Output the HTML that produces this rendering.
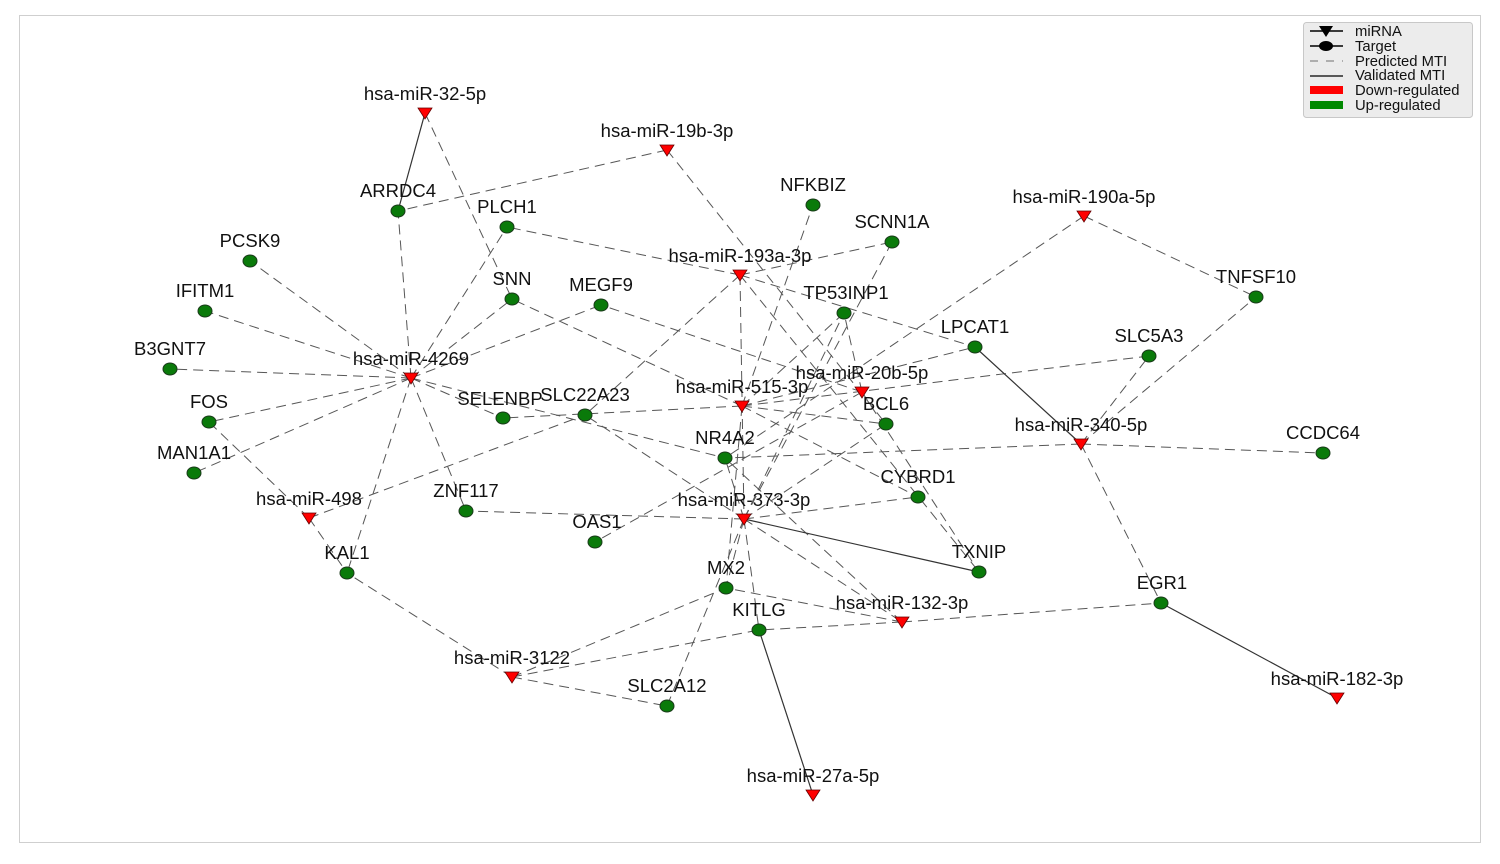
<!DOCTYPE html>
<html><head><meta charset="utf-8"><style>
html,body{margin:0;padding:0;background:#fff;}
svg text{font-family:"Liberation Sans",Arial,sans-serif;}
</style></head><body>
<svg width="1500" height="859" viewBox="0 0 1500 859" xmlns="http://www.w3.org/2000/svg">
<rect x="0" y="0" width="1500" height="859" fill="#fff"/>
<rect x="19.5" y="15.5" width="1461" height="827" fill="none" stroke="#cfcfcf" stroke-width="1"/>
<g id="edges" stroke="#444" stroke-width="1" fill="none" stroke-dasharray="10,6" opacity="0.9">
<line x1="425" y1="113" x2="512" y2="299"/>
<line x1="667" y1="150" x2="398" y2="211"/>
<line x1="667" y1="150" x2="886" y2="424"/>
<line x1="740" y1="275" x2="507" y2="227"/>
<line x1="740" y1="275" x2="892" y2="242"/>
<line x1="740" y1="275" x2="975" y2="347"/>
<line x1="740" y1="275" x2="585" y2="415"/>
<line x1="740" y1="275" x2="979" y2="572"/>
<line x1="740" y1="275" x2="744" y2="519"/>
<line x1="411" y1="378" x2="398" y2="211"/>
<line x1="411" y1="378" x2="507" y2="227"/>
<line x1="411" y1="378" x2="250" y2="261"/>
<line x1="411" y1="378" x2="205" y2="311"/>
<line x1="411" y1="378" x2="170" y2="369"/>
<line x1="411" y1="378" x2="209" y2="422"/>
<line x1="411" y1="378" x2="194" y2="473"/>
<line x1="411" y1="378" x2="512" y2="299"/>
<line x1="411" y1="378" x2="601" y2="305"/>
<line x1="411" y1="378" x2="503" y2="418"/>
<line x1="411" y1="378" x2="466" y2="511"/>
<line x1="411" y1="378" x2="347" y2="573"/>
<line x1="411" y1="378" x2="725" y2="458"/>
<line x1="742" y1="406" x2="512" y2="299"/>
<line x1="742" y1="406" x2="503" y2="418"/>
<line x1="742" y1="406" x2="813" y2="205"/>
<line x1="742" y1="406" x2="844" y2="313"/>
<line x1="742" y1="406" x2="1149" y2="356"/>
<line x1="742" y1="406" x2="886" y2="424"/>
<line x1="742" y1="406" x2="918" y2="497"/>
<line x1="742" y1="406" x2="726" y2="588"/>
<line x1="742" y1="406" x2="975" y2="347"/>
<line x1="862" y1="392" x2="601" y2="305"/>
<line x1="862" y1="392" x2="844" y2="313"/>
<line x1="862" y1="392" x2="979" y2="572"/>
<line x1="862" y1="392" x2="595" y2="542"/>
<line x1="1084" y1="216" x2="1256" y2="297"/>
<line x1="1084" y1="216" x2="725" y2="458"/>
<line x1="1081" y1="444" x2="1149" y2="356"/>
<line x1="1081" y1="444" x2="1256" y2="297"/>
<line x1="1081" y1="444" x2="1323" y2="453"/>
<line x1="1081" y1="444" x2="725" y2="458"/>
<line x1="1081" y1="444" x2="1161" y2="603"/>
<line x1="309" y1="518" x2="209" y2="422"/>
<line x1="309" y1="518" x2="347" y2="573"/>
<line x1="309" y1="518" x2="585" y2="415"/>
<line x1="744" y1="519" x2="466" y2="511"/>
<line x1="744" y1="519" x2="918" y2="497"/>
<line x1="744" y1="519" x2="725" y2="458"/>
<line x1="744" y1="519" x2="844" y2="313"/>
<line x1="744" y1="519" x2="892" y2="242"/>
<line x1="744" y1="519" x2="886" y2="424"/>
<line x1="744" y1="519" x2="726" y2="588"/>
<line x1="744" y1="519" x2="759" y2="630"/>
<line x1="744" y1="519" x2="667" y2="706"/>
<line x1="744" y1="519" x2="902" y2="622"/>
<line x1="744" y1="519" x2="585" y2="415"/>
<line x1="902" y1="622" x2="726" y2="588"/>
<line x1="902" y1="622" x2="1161" y2="603"/>
<line x1="902" y1="622" x2="759" y2="630"/>
<line x1="902" y1="622" x2="725" y2="458"/>
<line x1="512" y1="677" x2="347" y2="573"/>
<line x1="512" y1="677" x2="726" y2="588"/>
<line x1="512" y1="677" x2="667" y2="706"/>
<line x1="512" y1="677" x2="759" y2="630"/>
</g>
<g stroke="#333" stroke-width="1.2" fill="none">
<line x1="425" y1="113" x2="398" y2="211"/>
<line x1="1081" y1="444" x2="975" y2="347"/>
<line x1="744" y1="519" x2="979" y2="572"/>
<line x1="1337" y1="698" x2="1161" y2="603"/>
<line x1="813" y1="795" x2="759" y2="630"/>
</g>
<g fill="#0a7a0a" stroke="#1a3a1a" stroke-width="1">
<ellipse cx="398" cy="211" rx="7" ry="6"/><ellipse cx="507" cy="227" rx="7" ry="6"/>
<ellipse cx="813" cy="205" rx="7" ry="6"/><ellipse cx="892" cy="242" rx="7" ry="6"/>
<ellipse cx="250" cy="261" rx="7" ry="6"/><ellipse cx="205" cy="311" rx="7" ry="6"/>
<ellipse cx="512" cy="299" rx="7" ry="6"/><ellipse cx="601" cy="305" rx="7" ry="6"/>
<ellipse cx="844" cy="313" rx="7" ry="6"/><ellipse cx="1256" cy="297" rx="7" ry="6"/>
<ellipse cx="975" cy="347" rx="7" ry="6"/><ellipse cx="1149" cy="356" rx="7" ry="6"/>
<ellipse cx="170" cy="369" rx="7" ry="6"/><ellipse cx="209" cy="422" rx="7" ry="6"/>
<ellipse cx="503" cy="418" rx="7" ry="6"/><ellipse cx="585" cy="415" rx="7" ry="6"/>
<ellipse cx="886" cy="424" rx="7" ry="6"/><ellipse cx="725" cy="458" rx="7" ry="6"/>
<ellipse cx="1323" cy="453" rx="7" ry="6"/><ellipse cx="194" cy="473" rx="7" ry="6"/>
<ellipse cx="918" cy="497" rx="7" ry="6"/><ellipse cx="466" cy="511" rx="7" ry="6"/>
<ellipse cx="595" cy="542" rx="7" ry="6"/><ellipse cx="979" cy="572" rx="7" ry="6"/>
<ellipse cx="347" cy="573" rx="7" ry="6"/><ellipse cx="726" cy="588" rx="7" ry="6"/>
<ellipse cx="1161" cy="603" rx="7" ry="6"/><ellipse cx="759" cy="630" rx="7" ry="6"/>
<ellipse cx="667" cy="706" rx="7" ry="6"/>
</g>
<g fill="#f00" stroke="#600" stroke-width="0.8">
<polygon points="418,108 432,108 425,119"/>
<polygon points="660,145 674,145 667,156"/>
<polygon points="733,270 747,270 740,281"/>
<polygon points="1077,211 1091,211 1084,222"/>
<polygon points="404,373 418,373 411,384"/>
<polygon points="735,401 749,401 742,412"/>
<polygon points="855,387 869,387 862,398"/>
<polygon points="1074,439 1088,439 1081,450"/>
<polygon points="302,513 316,513 309,524"/>
<polygon points="737,514 751,514 744,525"/>
<polygon points="895,617 909,617 902,628"/>
<polygon points="505,672 519,672 512,683"/>
<polygon points="1330,693 1344,693 1337,704"/>
<polygon points="806,790 820,790 813,801"/>
</g>
<g font-size="18.5" fill="#111" text-anchor="middle">
<text x="425" y="100">hsa-miR-32-5p</text>
<text x="667" y="137">hsa-miR-19b-3p</text>
<text x="740" y="262">hsa-miR-193a-3p</text>
<text x="1084" y="203">hsa-miR-190a-5p</text>
<text x="411" y="365">hsa-miR-4269</text>
<text x="742" y="393">hsa-miR-515-3p</text>
<text x="862" y="379">hsa-miR-20b-5p</text>
<text x="1081" y="431">hsa-miR-340-5p</text>
<text x="309" y="505">hsa-miR-498</text>
<text x="744" y="506">hsa-miR-373-3p</text>
<text x="902" y="609">hsa-miR-132-3p</text>
<text x="512" y="664">hsa-miR-3122</text>
<text x="1337" y="685">hsa-miR-182-3p</text>
<text x="813" y="782">hsa-miR-27a-5p</text>
<text x="398" y="197">ARRDC4</text><text x="507" y="213">PLCH1</text>
<text x="813" y="191">NFKBIZ</text><text x="892" y="228">SCNN1A</text>
<text x="250" y="247">PCSK9</text><text x="205" y="297">IFITM1</text>
<text x="512" y="285">SNN</text><text x="601" y="291">MEGF9</text>
<text x="846" y="299">TP53INP1</text><text x="1256" y="283">TNFSF10</text>
<text x="975" y="333">LPCAT1</text><text x="1149" y="342">SLC5A3</text>
<text x="170" y="355">B3GNT7</text><text x="209" y="408">FOS</text>
<text x="500" y="405">SELENBP</text><text x="585" y="401">SLC22A23</text>
<text x="886" y="410">BCL6</text><text x="725" y="444">NR4A2</text>
<text x="1323" y="439">CCDC64</text><text x="194" y="459">MAN1A1</text>
<text x="918" y="483">CYBRD1</text><text x="466" y="497">ZNF117</text>
<text x="597" y="528">OAS1</text><text x="979" y="558">TXNIP</text>
<text x="347" y="559">KAL1</text><text x="726" y="574">MX2</text>
<text x="1162" y="589">EGR1</text><text x="759" y="616">KITLG</text>
<text x="667" y="692">SLC2A12</text>
</g>
<g>
<rect x="1303.5" y="22.5" width="169" height="95" rx="3" fill="#ececec" stroke="#c8c8c8"/>
<line x1="1310" y1="31" x2="1343" y2="31" stroke="#000" stroke-width="1.5"/>
<polygon points="1319,26 1333,26 1326,37" fill="#000"/>
<line x1="1310" y1="46" x2="1343" y2="46" stroke="#000" stroke-width="1.5"/>
<ellipse cx="1326" cy="46" rx="7" ry="5" fill="#000"/>
<line x1="1310" y1="61" x2="1343" y2="61" stroke="#888" stroke-width="1.2" stroke-dasharray="8,8"/>
<line x1="1310" y1="76" x2="1343" y2="76" stroke="#000" stroke-width="1.2"/>
<rect x="1310" y="86" width="33" height="8" fill="#f00"/>
<rect x="1310" y="101" width="33" height="8" fill="#080"/>
<g font-size="14.8" fill="#111">
<text x="1355" y="36">miRNA</text>
<text x="1355" y="51">Target</text>
<text x="1355" y="66">Predicted MTI</text>
<text x="1355" y="80">Validated MTI</text>
<text x="1355" y="95">Down-regulated</text>
<text x="1355" y="110">Up-regulated</text>
</g>
</g>
</svg>
</body></html>
